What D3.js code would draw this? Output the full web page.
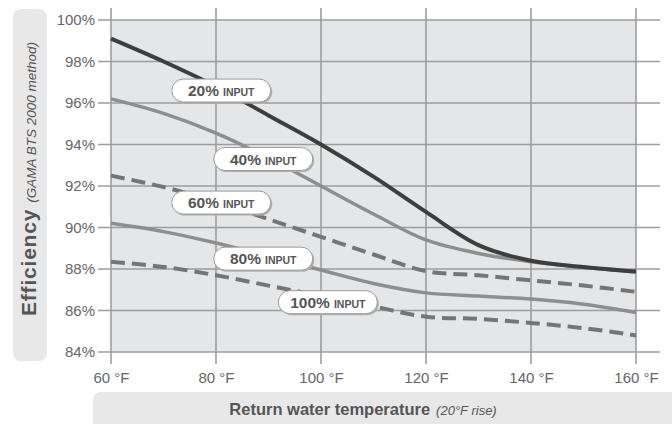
<!DOCTYPE html>
<html>
<head>
<meta charset="utf-8">
<script src="https://cdn.jsdelivr.net/npm/d3@7"></script>
<style>
  body { margin: 0; background: #fff; }
  svg { display: block; }
</style>
</head>
<body>
<script>
// return water temperature (°F) and efficiency (%) per firing rate
const temps = [60, 70, 80, 90, 100, 110, 120, 130, 140, 150, 160];
const eff20 = [99.1, 98.0, 96.8, 95.4, 94.0, 92.45, 90.75, 89.15, 88.4, 88.1, 87.88];
const eff40 = [96.2, 95.5, 94.55, 93.35, 92.0, 90.65, 89.4, 88.75, 88.35, 88.08, 87.85];
const eff60 = [92.5, 91.95, 91.25, 90.4, 89.55, 88.7, 87.9, 87.7, 87.45, 87.2, 86.9];
const eff80 = [90.2, 89.8, 89.25, 88.6, 87.95, 87.3, 86.85, 86.7, 86.55, 86.3, 85.9];
const eff100 = [88.35, 88.1, 87.7, 87.2, 86.7, 86.2, 85.7, 85.6, 85.4, 85.15, 84.8];

const xTicks = [60, 80, 100, 120, 140, 160];
const yTicks = [84, 86, 88, 90, 92, 94, 96, 98, 100];

// label pills: name, temperature, efficiency where they sit
const pillNames = ['20%', '40%', '60%', '80%', '100%'];
const pillTemps = [81, 89, 81, 89, 101.3];
const pillEffs = [96.6, 93.3, 91.2, 88.5, 86.4];

const width = 672, height = 424;

const svg = d3.select('body').append('svg')
  .attr('width', width)
  .attr('height', height);

const x = d3.scaleLinear().domain([60, 160]).range([111, 636]);
const y = d3.scaleLinear().domain([84, 100]).range([352, 20]);

// side panels for the axis titles
svg.append('rect')
  .attr('x', 13).attr('y', 9)
  .attr('width', 34).attr('height', 352)
  .attr('rx', 8)
  .attr('fill', '#e8e8e8');

svg.append('rect')
  .attr('x', 93).attr('y', 392)
  .attr('width', 620).attr('height', 60)
  .attr('rx', 8)
  .attr('fill', '#e8e8e8');

// plot background
svg.append('rect')
  .attr('x', x(60)).attr('y', y(100))
  .attr('width', x(160) - x(60)).attr('height', y(84) - y(100))
  .attr('fill', '#e5e6e7');

// grid
svg.append('g').selectAll('line')
  .data(yTicks)
  .join('line')
    .attr('x1', x(60) - 13).attr('x2', 660)
    .attr('y1', (d) => y(d)).attr('y2', (d) => y(d))
    .attr('stroke', '#9d9d9d')
    .attr('stroke-width', 1.6);

svg.append('g').selectAll('line')
  .data(xTicks)
  .join('line')
    .attr('x1', (d) => x(d)).attr('x2', (d) => x(d))
    .attr('y1', 8).attr('y2', y(84) + 12)
    .attr('stroke', '#9d9d9d')
    .attr('stroke-width', 1.6);

// tick labels
const yAxis = svg.append('g')
  .attr('transform', `translate(${x(60) - 13},0)`)
  .call(d3.axisLeft(y).tickValues(yTicks).tickSize(0).tickPadding(3).tickFormat((d) => d + '%'));
yAxis.select('.domain').remove();
yAxis.selectAll('text')
  .attr('font-family', '"Liberation Sans", Arial, sans-serif')
  .attr('font-size', 15)
  .attr('fill', '#666');

const xAxis = svg.append('g')
  .attr('transform', `translate(0,${y(84) + 12})`)
  .call(d3.axisBottom(x).tickValues(xTicks).tickSize(0).tickPadding(8).tickFormat((d) => d + ' °F'));
xAxis.select('.domain').remove();
xAxis.selectAll('text')
  .attr('font-family', '"Liberation Sans", Arial, sans-serif')
  .attr('font-size', 15)
  .attr('fill', '#666');

// curves
const series = [
  { values: eff100, color: '#757575', width: 4, dash: '14,7' },
  { values: eff80, color: '#8e8e8e', width: 3.5, dash: null },
  { values: eff60, color: '#757575', width: 4, dash: '14,7' },
  { values: eff40, color: '#8e8e8e', width: 3.5, dash: null },
  { values: eff20, color: '#3e3e3e', width: 4, dash: null }
];

const line = d3.line()
  .x((d, i) => x(temps[i]))
  .y((d) => y(d))
  .curve(d3.curveCatmullRom.alpha(0.5));

svg.append('g').selectAll('path')
  .data(series)
  .join('path')
    .attr('d', (d) => line(d.values))
    .attr('fill', 'none')
    .attr('stroke', (d) => d.color)
    .attr('stroke-width', (d) => d.width)
    .attr('stroke-dasharray', (d) => d.dash);

// pills
const pill = svg.append('g').selectAll('g')
  .data(pillNames)
  .join('g')
    .attr('transform', (d, i) => `translate(${x(pillTemps[i])},${y(pillEffs[i])})`);

pill.append('rect')
  .attr('x', -48).attr('y', -10)
  .attr('width', 99).attr('height', 23)
  .attr('rx', 11.5)
  .attr('fill', '#b0b0b0');

pill.append('rect')
  .attr('x', -49.5).attr('y', -11.5)
  .attr('width', 99).attr('height', 23)
  .attr('rx', 11.5)
  .attr('fill', '#fff')
  .attr('stroke', '#9a9a9a')
  .attr('stroke-width', 1);

const pillText = pill.append('text')
  .attr('y', 5.5)
  .attr('text-anchor', 'middle')
  .attr('font-family', '"Liberation Sans", Arial, sans-serif')
  .attr('font-weight', 'bold')
  .attr('fill', '#555');
pillText.append('tspan').attr('font-size', 15.5).text((d) => d);
pillText.append('tspan').attr('font-size', 10.5).attr('dx', 4).text('INPUT');

// axis titles
const yTitle = svg.append('text')
  .attr('transform', 'translate(36,179) rotate(-90)')
  .attr('text-anchor', 'middle')
  .attr('fill', '#555');
yTitle.append('tspan')
  .attr('font-family', '"Liberation Sans", Arial, sans-serif')
  .attr('font-weight', 'bold')
  .attr('font-size', 21)
  .attr('letter-spacing', 0.8)
  .text('Efficiency');
yTitle.append('tspan')
  .attr('dx', 6)
  .attr('font-family', '"Liberation Sans", Arial, sans-serif')
  .attr('font-style', 'italic')
  .attr('font-size', 13.5)
  .text('(GAMA BTS 2000 method)');

const xTitle = svg.append('text')
  .attr('x', 363).attr('y', 415)
  .attr('text-anchor', 'middle')
  .attr('fill', '#555');
xTitle.append('tspan')
  .attr('font-family', '"Liberation Sans", Arial, sans-serif')
  .attr('font-weight', 'bold')
  .attr('font-size', 16.5)
  .text('Return water temperature');
xTitle.append('tspan')
  .attr('dx', 6)
  .attr('font-family', '"Liberation Sans", Arial, sans-serif')
  .attr('font-style', 'italic')
  .attr('font-size', 13)
  .text('(20°F rise)');
</script>
</body>
</html>
